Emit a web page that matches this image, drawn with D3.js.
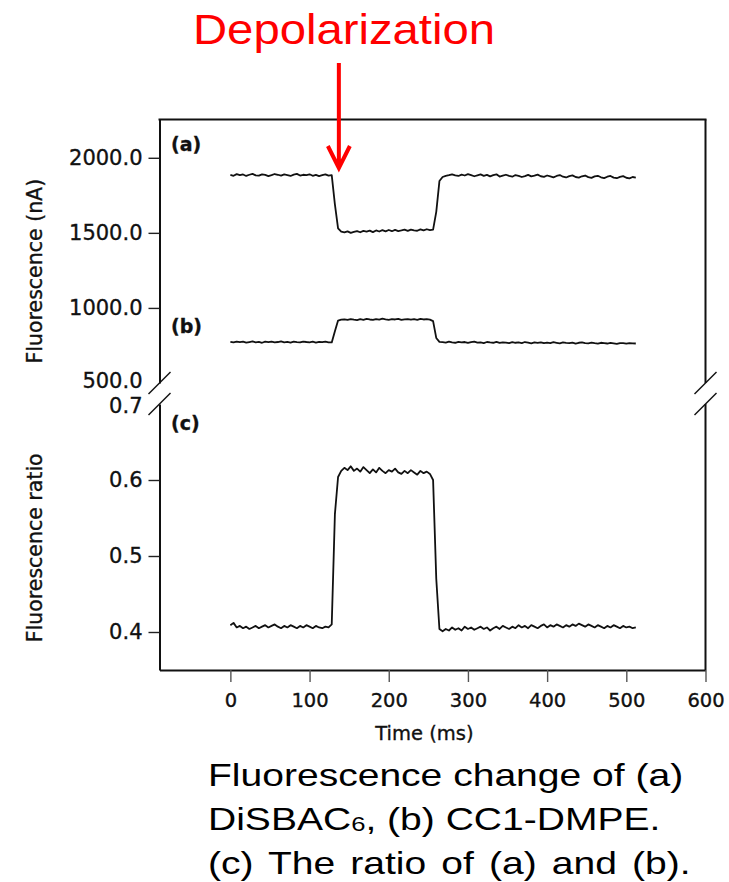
<!DOCTYPE html>
<html>
<head>
<meta charset="utf-8">
<script src="https://cdn.jsdelivr.net/npm/d3@7"></script>
<style>
  html, body { margin: 0; padding: 0; background: #fff; }
  svg { display: block; }
</style>
</head>
<body>
<svg id="chart" width="729" height="882"></svg>
<script>
// sample times (ms), every 4 ms
const times = [
  0, 4, 8, 12, 16, 20, 24, 28, 32, 36, 40, 44, 48, 52, 56, 60, 64, 68, 72, 76,
  80, 84, 88, 92, 96, 100, 104, 108, 112, 116, 120, 124, 128, 132, 136, 140, 144, 148, 152, 156,
  160, 164, 168, 172, 176, 180, 184, 188, 192, 196, 200, 204, 208, 212, 216, 220, 224, 228, 232, 236,
  240, 244, 248, 252, 256, 260, 264, 268, 272, 276, 280, 284, 288, 292, 296, 300, 304, 308, 312, 316,
  320, 324, 328, 332, 336, 340, 344, 348, 352, 356, 360, 364, 368, 372, 376, 380, 384, 388, 392, 396,
  400, 404, 408, 412, 416, 420, 424, 428, 432, 436, 440, 444, 448, 452, 456, 460, 464, 468, 472, 476,
  480, 484, 488, 492, 496, 500, 504, 508, 512
];

// (a) DiSBAC6 fluorescence (nA)
const traceA = [
  1886, 1880, 1891, 1884, 1889, 1879, 1887, 1893, 1883, 1881, 1890, 1886, 1878, 1884, 1892, 1887, 1881, 1889, 1885, 1879,
  1888, 1893, 1882, 1887, 1884, 1890, 1880, 1886, 1878, 1884, 1890, 1881, 1885, 1690, 1530, 1508,
  1503, 1510, 1500, 1507, 1512, 1504, 1513, 1508, 1515, 1505, 1516, 1509, 1518, 1510, 1519, 1511, 1520, 1512, 1516, 1521,
  1513, 1522, 1517, 1514, 1523, 1516, 1524, 1518, 1522, 1640, 1845, 1872, 1880,
  1884, 1890, 1883, 1879, 1888, 1882, 1891, 1884, 1877, 1883, 1889, 1880, 1886, 1876, 1884, 1890, 1875, 1881, 1887, 1879,
  1874, 1885, 1880, 1872, 1878, 1886, 1876, 1881, 1888, 1877, 1873, 1882, 1876, 1870, 1879, 1885, 1874, 1869, 1878, 1883,
  1872, 1868, 1877, 1882, 1871, 1866, 1876, 1880, 1870, 1865, 1874, 1879, 1868, 1864, 1873, 1878, 1867, 1863, 1872, 1868
];

// (b) CC1-DMPE fluorescence (nA)
const traceB = [
  774, 770, 776, 772, 775, 769, 773, 777, 771, 774, 768, 775, 772, 776, 770, 773, 777, 771, 774, 769,
  775, 772, 770, 776, 773, 771, 775, 769, 774, 772, 776, 770, 770, 845, 916, 922,
  924, 920, 926, 922, 919, 925, 921, 927, 923, 920, 926, 922, 928, 924, 921, 925, 923, 927, 920, 924,
  926, 922, 925, 921, 927, 923, 925, 922, 912, 800, 774,
  772, 769, 775, 771, 768, 774, 770, 773, 767, 772, 776, 769, 771, 766, 773, 770, 768, 774, 767, 771,
  769, 765, 772, 768, 770, 766, 773, 769, 764, 770, 767, 771, 765, 769, 766, 772, 768, 764, 770, 767,
  765, 769, 763, 768, 771, 766, 764, 769, 765, 762, 768, 766, 763, 767, 764, 761, 766, 765, 762, 766,
  764, 763
];

// (c) ratio of (a) and (b)
const ratioC = [
  0.409, 0.412, 0.406, 0.408, 0.405, 0.407, 0.404, 0.406, 0.408, 0.405, 0.407, 0.409, 0.406, 0.408, 0.410, 0.407,
  0.405, 0.408, 0.406, 0.409, 0.407, 0.405, 0.408, 0.406, 0.409, 0.407, 0.405, 0.408, 0.406, 0.405, 0.407, 0.406,
  0.410, 0.555, 0.604, 0.612,
  0.616, 0.613, 0.618, 0.612, 0.615, 0.611, 0.617, 0.613, 0.609, 0.614, 0.610, 0.616, 0.612, 0.609,
  0.613, 0.611, 0.615, 0.610, 0.608, 0.612, 0.609, 0.613, 0.610, 0.607, 0.612, 0.609, 0.611, 0.608,
  0.600, 0.470, 0.404,
  0.401, 0.404, 0.402, 0.406, 0.403, 0.405, 0.402, 0.407, 0.404, 0.406, 0.403, 0.405, 0.407, 0.404, 0.406, 0.402,
  0.405, 0.407, 0.404, 0.408, 0.406, 0.404, 0.407, 0.405, 0.409, 0.406, 0.408, 0.405, 0.409, 0.407, 0.405, 0.408,
  0.410, 0.406, 0.409, 0.407, 0.410, 0.408, 0.406, 0.409, 0.407, 0.410, 0.408, 0.411, 0.409, 0.407, 0.410, 0.408,
  0.406, 0.409, 0.407, 0.405, 0.408, 0.406, 0.409, 0.407, 0.405, 0.408, 0.406, 0.407, 0.405, 0.406
];

const xTicks = [0, 100, 200, 300, 400, 500, 600];
const topTicks = [500, 1000, 1500, 2000];
const bottomTicks = [0.4, 0.5, 0.6, 0.7];
const panelLabels = [
  { text: "(a)", panel: "top", v: 2045 },
  { text: "(b)", panel: "top", v: 833 },
  { text: "(c)", panel: "bottom", v: 0.6664 }
];
const captionLines = [
  ["Fluorescence change of (a)"],
  ["DiSBAC", "6", ", (b) CC1-DMPE."],
  ["(c) The ratio of (a) and (b)."]
];
const depolTime = 137;

const chartFont = "'DejaVu Sans', sans-serif";
const slideFont = "'Liberation Sans', Arial, sans-serif";
const ink = "#111";

const svg = d3.select("#chart");

const x = d3.scaleLinear().domain([-89.5, 600]).range([159.5, 705.5]);
const yTop = d3.scaleLinear().domain([500, 2255]).range([383, 119.5]);
const yBot = d3.scaleLinear().domain([0.35, 0.7]).range([670, 404]);

const [x0, x1] = x.range();

// scanned text looks a little heavier than plain DejaVu
function inkText(sel) {
    return sel.attr("fill", ink).attr("stroke", ink).attr("stroke-width", 0.35)
        .style("font-family", chartFont);
}

function styleAxis(g, size) {
    g.select(".domain").attr("stroke", ink).attr("stroke-width", 2);
    g.selectAll(".tick line").attr("stroke", "#222").attr("stroke-width", 1.4);
    g.selectAll(".tick text").call(inkText).style("font-size", size + "px");
}

// left axes, split by the break
const gTop = svg.append("g")
    .attr("transform", `translate(${x0},0)`)
    .call(d3.axisLeft(yTop).tickValues(topTicks).tickFormat(d3.format(".1f"))
        .tickSize(11).tickPadding(6).tickSizeOuter(0));
styleAxis(gTop, 21);
gTop.selectAll(".tick").filter(d => d === 500).select("line").remove();
gTop.selectAll(".tick").filter(d => d === 500).select("text").attr("dy", "0.22em");

const gBot = svg.append("g")
    .attr("transform", `translate(${x0},0)`)
    .call(d3.axisLeft(yBot).tickValues(bottomTicks).tickFormat(d3.format(".1f"))
        .tickSize(11).tickPadding(6).tickSizeOuter(0));
styleAxis(gBot, 21);
gBot.selectAll(".tick").filter(d => d === 0.7).select("line").remove();
gBot.selectAll(".tick").filter(d => d === 0.7).select("text").attr("dy", "0.42em");

const gX = svg.append("g")
    .attr("transform", `translate(0,${yBot.range()[0]})`)
    .call(d3.axisBottom(x).tickValues(xTicks).tickSize(12).tickPadding(11).tickSizeOuter(0));
styleAxis(gX, 19.5);
gX.selectAll(".tick line").attr("stroke", "#555");

// frame: top and right edges
const frame = svg.append("g").attr("stroke", ink).attr("stroke-width", 2).attr("fill", "none");
frame.append("line").attr("x1", x0 - 1).attr("x2", x1 + 1).attr("y1", yTop.range()[1]).attr("y2", yTop.range()[1]);
frame.append("line").attr("x1", x1).attr("x2", x1).attr("y1", yTop.range()[1]).attr("y2", yTop.range()[0]);
frame.append("line").attr("x1", x1).attr("x2", x1).attr("y1", yBot.range()[1]).attr("y2", yBot.range()[0]);

// break marks
const breaks = [
    [x0, yTop(500)], [x0, yBot(0.7)],
    [x1, yTop(500)], [x1, yBot(0.7)]
];
svg.append("g").selectAll("path").data(breaks).join("path")
    .attr("d", d => `M${d[0] - 11},${d[1] + 11}L${d[0] + 11},${d[1] - 11}`)
    .attr("stroke", ink).attr("stroke-width", 1.5).attr("fill", "none");

// traces
const lineTop = d3.line().x(d => x(d.t)).y(d => yTop(d.v));
const lineBot = d3.line().x(d => x(d.t)).y(d => yBot(d.v));
const seriesA = times.map((t, i) => ({ t, v: traceA[i] }));
const seriesB = times.map((t, i) => ({ t, v: traceB[i] }));
const seriesC = times.map((t, i) => ({ t, v: ratioC[i] }));

svg.append("g").attr("fill", "none").attr("stroke", ink).attr("stroke-width", 1.8)
    .attr("stroke-linejoin", "round")
    .selectAll("path")
    .data([lineTop(seriesA), lineTop(seriesB), lineBot(seriesC)])
    .join("path")
    .attr("d", d => d);

// panel labels
svg.append("g").selectAll("text").data(panelLabels).join("text")
    .attr("x", x(-75))
    .attr("y", d => d.panel === "top" ? yTop(d.v) : yBot(d.v))
    .call(inkText)
    .style("font-weight", "bold")
    .style("font-size", "19px")
    .text(d => d.text);

// axis titles
svg.append("text")
    .attr("transform", `translate(42,${yTop(1245)}) rotate(-90)`)
    .attr("text-anchor", "middle")
    .call(inkText).style("font-size", "20.5px")
    .text("Fluorescence (nA)");

svg.append("text")
    .attr("transform", `translate(42,${yBot(0.5108)}) rotate(-90)`)
    .attr("text-anchor", "middle")
    .call(inkText).style("font-size", "20.5px")
    .text("Fluorescence ratio");

svg.append("text")
    .attr("x", x(245))
    .attr("y", 740)
    .attr("text-anchor", "middle")
    .call(inkText).style("font-size", "19.5px")
    .text("Time (ms)");

// red annotation
const ax = x(depolTime);
svg.append("text")
    .attr("x", 193)
    .attr("y", 44)
    .attr("fill", "#ff0000")
    .attr("textLength", 302)
    .attr("lengthAdjust", "spacingAndGlyphs")
    .style("font-family", slideFont).style("font-size", "43px")
    .text("Depolarization");

svg.append("path")
    .attr("d", `M${ax},63V166M${ax - 11},146L${ax},168L${ax + 11},146`)
    .attr("fill", "none")
    .attr("stroke", "#ff0000")
    .attr("stroke-width", 4);

// caption
const caption = svg.append("g").attr("fill", "#000")
    .style("font-family", slideFont).style("font-size", "32px");
captionLines.forEach((parts, i) => {
    const t = caption.append("text")
        .attr("transform", `translate(208,${786 + i * 44}) scale(1.22,1)`);
    if (parts.length === 1) {
        t.text(parts[0]);
    } else {
        t.append("tspan").text(parts[0]);
        t.append("tspan").style("font-size", "21px").attr("dy", 1).text(parts[1]);
        t.append("tspan").attr("dy", -1).text(parts[2]);
    }
    if (i === 2) t.style("word-spacing", "3.5px");
});
</script>
</body>
</html>
